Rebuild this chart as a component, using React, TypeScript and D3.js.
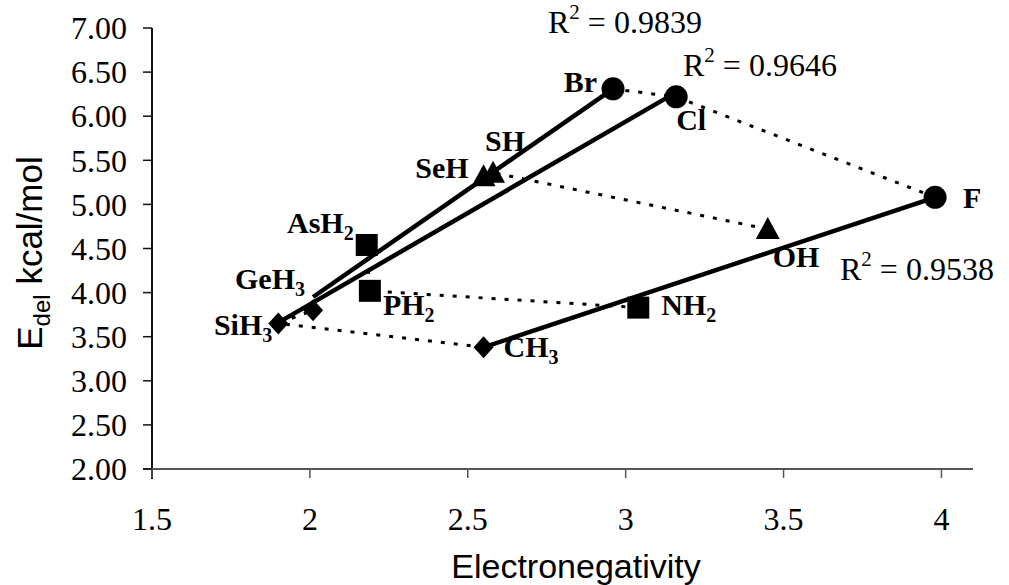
import React from 'react';
import * as d3 from 'd3';

// substituents (label, subscript), electronegativity and Edel
const labels = ['CH', 'SiH', 'GeH', 'NH', 'PH', 'AsH', 'OH', 'SH', 'SeH', 'F', 'Cl', 'Br'];
const subs = ['3', '3', '3', '2', '2', '2', '', '', '', '', '', ''];
const electroneg = [2.55, 1.9, 2.01, 3.04, 2.19, 2.18, 3.45, 2.58, 2.55, 3.98, 3.16, 2.96];
const edel = [3.38, 3.65, 3.8, 3.83, 4.02, 4.54, 4.72, 5.36, 5.32, 5.08, 6.22, 6.31];
const groupOf = ['14', '14', '14', '15', '15', '15', '16', '16', '16', '17', '17', '17'];

// dotted lines join a group, in order 2nd, 3rd, 4th period
const groupLines = [
  ['CH', 'SiH', 'GeH'],
  ['NH', 'PH', 'AsH'],
  ['OH', 'SH', 'SeH'],
  ['F', 'Cl', 'Br'],
];

// linear trend lines per period, endpoints
const trendX1 = [2.55, 1.9, 2.01];
const trendY1 = [3.38, 3.66, 3.95];
const trendX2 = [3.98, 3.16, 2.96];
const trendY2 = [5.08, 6.27, 6.31];
const r2Values = ['0.9538', '0.9646', '0.9839'];

const yTicks = [2, 2.5, 3, 3.5, 4, 4.5, 5, 5.5, 6, 6.5, 7];
const xTicks = [1.5, 2, 2.5, 3, 3.5, 4];

// label placement relative to each marker: [dx, dy, anchor]
const labelPos: Record<string, [number, number, string]> = {
  CH: [20, 10, 'start'],
  SiH: [-6, 12, 'end'],
  GeH: [-8, -21, 'end'],
  NH: [23, 7, 'start'],
  PH: [13, 24, 'start'],
  AsH: [-13, -12, 'end'],
  OH: [5, 38, 'start'],
  SH: [-8, -22, 'start'],
  SeH: [-15, 2, 'end'],
  F: [28, 11, 'start'],
  Cl: [0, 33, 'start'],
  Br: [-16, 3, 'end'],
};
const r2Pos = [
  [840, 280],
  [683, 76],
  [548, 33],
];

const serif = "'Liberation Serif', 'Times New Roman', Times, 'DejaVu Serif', serif";
const sans = "'Liberation Sans', Arial, sans-serif";

function Marker({ g, cx, cy }: { g: string; cx: number; cy: number }) {
  if (g === '17') return <circle cx={cx} cy={cy} r={11.5} fill="#000" />;
  if (g === '15') return <rect x={cx - 11} y={cy - 11} width={22} height={22} fill="#000" />;
  if (g === '16')
    return <path d={`M${cx},${cy - 12} L${cx + 12},${cy + 10} L${cx - 12},${cy + 10} Z`} fill="#000" />;
  return <path d={`M${cx},${cy - 11} L${cx + 10},${cy} L${cx},${cy + 11} L${cx - 10},${cy} Z`} fill="#000" />;
}

export default function App() {
  const x = d3.scaleLinear().domain([1.5, 4.1]).range([152, 973]);
  const y = d3.scaleLinear().domain([2, 7]).range([469, 28]);
  const idx = (name: string) => labels.indexOf(name);
  const line = d3
    .line<string>()
    .x((n) => x(electroneg[idx(n)]))
    .y((n) => y(edel[idx(n)]));

  return (
    <svg width={1009} height={585} style={{ position: 'absolute', left: 0, top: 0, background: '#fff' }}>
      {/* axes */}
      <line x1={x(1.5)} x2={x(1.5)} y1={y(7)} y2={y(2) + 10} stroke="#111" strokeWidth={2} />
      <line x1={x(1.5) - 9} x2={x(4.1)} y1={y(2)} y2={y(2)} stroke="#555" strokeWidth={2} />
      <g style={{ fontFamily: serif }}>
        {yTicks.map((t) => (
          <g key={'y' + t}>
            <line x1={x(1.5) - 9} x2={x(1.5)} y1={y(t)} y2={y(t)} stroke="#111" strokeWidth={1.5} />
            <text x={127} y={y(t)} dy="0.35em" textAnchor="end" fontSize={32}>
              {d3.format('.2f')(t)}
            </text>
          </g>
        ))}
        {xTicks.map((t) => (
          <g key={'x' + t}>
            <line x1={x(t)} x2={x(t)} y1={y(2)} y2={y(2) + 9} stroke="#555" strokeWidth={1.5} />
            <text x={x(t)} y={530} textAnchor="middle" fontSize={32}>
              {String(t)}
            </text>
          </g>
        ))}
      </g>
      <g style={{ fontFamily: sans }}>
        <text x={576} y={578} textAnchor="middle" fontSize={34}>
          Electronegativity
        </text>
        <text transform="translate(42,253) rotate(-90)" textAnchor="middle" fontSize={35}>
          E<tspan fontSize={24} dy={8}>del</tspan>
          <tspan dy={-8}> kcal/mol</tspan>
        </text>
      </g>

      {/* group connectors */}
      {groupLines.map((gl, i) => (
        <path key={'g' + i} d={line(gl) || ''} fill="none" stroke="#000" strokeWidth={3} strokeDasharray="4 9" />
      ))}

      {/* trend lines */}
      {trendX1.map((_, i) => (
        <line
          key={'t' + i}
          x1={x(trendX1[i])}
          y1={y(trendY1[i])}
          x2={x(trendX2[i])}
          y2={y(trendY2[i])}
          stroke="#000"
          strokeWidth={4.5}
        />
      ))}

      {/* markers */}
      {labels.map((n, i) => (
        <Marker key={'m' + n} g={groupOf[i]} cx={x(electroneg[i])} cy={y(edel[i])} />
      ))}

      {/* point labels and R² labels */}
      <g style={{ fontFamily: serif }}>
        {labels.map((n, i) => {
          const [dx, dy, anchor] = labelPos[n];
          return (
            <text
              key={'l' + n}
              x={x(electroneg[i]) + dx}
              y={y(edel[i]) + dy}
              textAnchor={anchor}
              fontWeight="bold"
              fontSize={30}
            >
              {n}
              {subs[i] && (
                <tspan fontSize={20} dy={7}>
                  {subs[i]}
                </tspan>
              )}
            </text>
          );
        })}
        {r2Values.map((v, i) => (
          <text key={'r' + i} x={r2Pos[i][0]} y={r2Pos[i][1]} fontSize={32}>
            R<tspan fontSize={21} dy={-14}>2</tspan>
            <tspan dy={14}> = {v}</tspan>
          </text>
        ))}
      </g>
    </svg>
  );
}
